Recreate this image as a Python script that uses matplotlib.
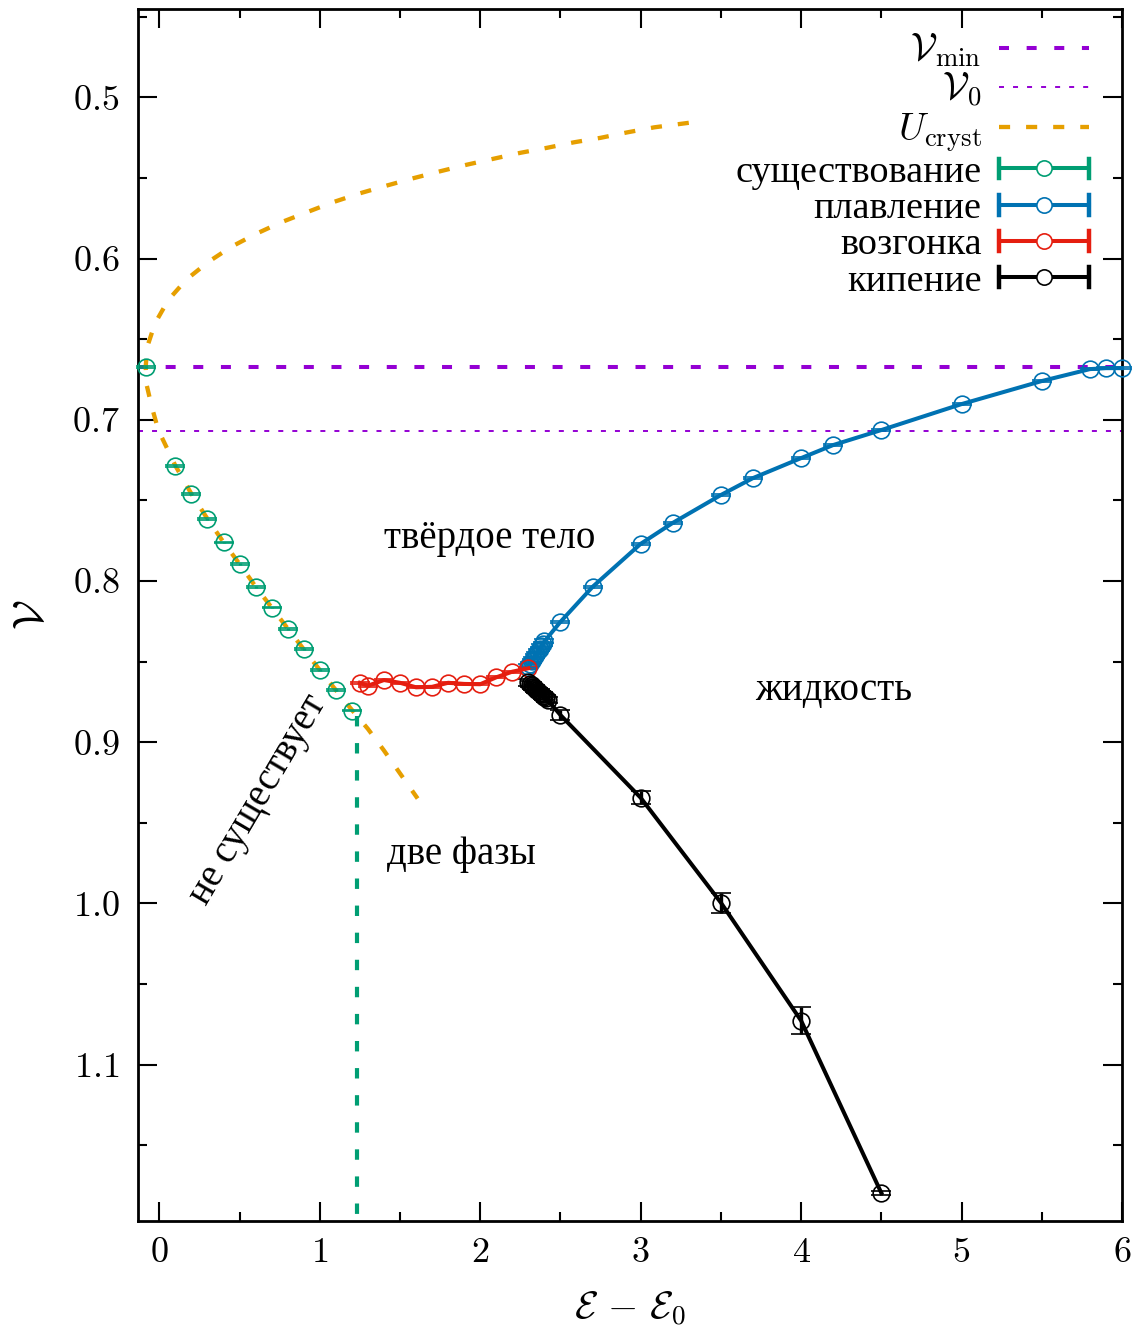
import matplotlib
matplotlib.use("Agg")
import matplotlib.pyplot as plt
from matplotlib.lines import Line2D
from matplotlib.legend_handler import HandlerBase
from matplotlib.ticker import MultipleLocator, FuncFormatter

plt.rcParams["mathtext.fontset"] = "cm"
plt.rcParams["font.family"] = ["Liberation Serif", "DejaVu Serif"]
plt.rcParams["lines.scale_dashes"] = False

# reference levels
v_min = 0.667
v_0 = 0.7071
triple_e = 1.23
triple_v = 0.884

# crystal energy curve U_cryst
ucryst_e = [3.300, 3.085, 2.918, 2.751, 2.584, 2.417, 2.251, 2.083, 1.916, 1.749,
            1.582, 1.415, 1.248, 1.081, 0.927, 0.760, 0.600, 0.449, 0.307, 0.170,
            0.056, -0.027, -0.075, -0.085, -0.080, -0.047, -0.006, 0.10, 0.20, 0.30,
            0.40, 0.50, 0.60, 0.70, 0.80, 0.90, 1.00, 1.10, 1.20, 1.30, 1.40, 1.50, 1.61]
ucryst_v = [0.5158, 0.5186, 0.5217, 0.5251, 0.5279, 0.5313, 0.5344, 0.5381, 0.5418, 0.5459,
            0.5502, 0.5548, 0.5596, 0.5651, 0.5710, 0.5775, 0.5848, 0.5927, 0.6020, 0.6129,
            0.6257, 0.6402, 0.6547, 0.6671, 0.6780, 0.6920, 0.7065, 0.7285, 0.7460, 0.7615,
            0.7760, 0.7895, 0.8035, 0.8165, 0.8295, 0.8424, 0.8553, 0.8677, 0.8800, 0.8918,
            0.9052, 0.9194, 0.9350]

# existence boundary
exist_e = [-0.083, 0.1, 0.2, 0.3, 0.4, 0.5, 0.6, 0.7, 0.8, 0.9, 1.0, 1.1, 1.2]
exist_v = [0.6672, 0.7287, 0.7461, 0.7616, 0.7761, 0.7895, 0.8036, 0.8166, 0.8297,
           0.8424, 0.8553, 0.8677, 0.8805]
exist_err = [0.0005] * len(exist_e)

# melting
melt_e = [2.30, 2.31, 2.32, 2.33, 2.34, 2.35, 2.36, 2.37, 2.38, 2.39, 2.40, 2.5, 2.7,
          3.0, 3.2, 3.5, 3.7, 4.0, 4.2, 4.5, 5.0, 5.5, 5.8, 5.9, 6.0]
melt_v = [0.8530, 0.8515, 0.8499, 0.8484, 0.8468, 0.8453, 0.8437, 0.8422, 0.8406,
          0.8391, 0.8375, 0.8254, 0.8037, 0.777, 0.764, 0.7467, 0.7362, 0.7238,
          0.7157, 0.7064, 0.6903, 0.676, 0.6686, 0.668, 0.668]
melt_err = [0.0012] * 11 + [0.0008] * 14

# sublimation
subl_e = [1.25, 1.3, 1.4, 1.5, 1.6, 1.7, 1.8, 1.9, 2.0, 2.1, 2.2, 2.3]
subl_v = [0.8632, 0.8650, 0.8615, 0.8632, 0.8660, 0.8657, 0.8632, 0.8639, 0.8641,
          0.8598, 0.8563, 0.8542]
subl_err = [0.0006] * len(subl_e)

# boiling
boil_e = [2.30, 2.31, 2.32, 2.33, 2.34, 2.35, 2.36, 2.37, 2.38, 2.39, 2.40, 2.41, 2.42,
          2.5, 3.0, 3.5, 4.0, 4.5]
boil_v = [0.8630, 0.8639, 0.8648, 0.8657, 0.8666, 0.8675, 0.8684, 0.8693, 0.8702,
          0.8711, 0.8720, 0.8729, 0.8738, 0.8832, 0.9345, 0.9996, 1.0728, 1.1797]
boil_err = [0.002] * 13 + [0.003, 0.004, 0.0062, 0.0085, 0.001]

PURPLE = "#9400D3"
GREEN = "#009E73"
ORANGE = "#E69F00"
BLUE = "#0072B2"
RED = "#E51E10"
BLACK = "#000000"

TXT = 28
LEG = 27.5

fig = plt.figure(figsize=(11.36, 13.35), dpi=100)
ax = fig.add_axes([0.12104, 0.08562, 0.86664, 0.90727])

h_vmin = ax.axhline(v_min, color=PURPLE, lw=2.9, dashes=(7.2, 12.7), zorder=2)
h_v0 = ax.axhline(v_0, color=PURPLE, lw=1.4, dashes=(3.6, 6.5), zorder=2)
h_u, = ax.plot(ucryst_e, ucryst_v, color=ORANGE, lw=3.1, dashes=(8.0, 11.5), zorder=3)
ax.vlines(triple_e, triple_v, 1.25, color=GREEN, lw=3.0, linestyles=[(0, (7.5, 12.0))],
          zorder=2)

common = dict(marker="o", ms=12, mfc="none", mew=1.2, capsize=7.2, capthick=3.4,
              elinewidth=2.4, zorder=4, clip_on=False)
ax.errorbar(exist_e, exist_v, yerr=exist_err, color=GREEN, ls="none", **common)
ax.errorbar(melt_e, melt_v, yerr=melt_err, color=BLUE, lw=2.9, **common)
ax.errorbar(subl_e, subl_v, yerr=subl_err, color=RED, lw=2.9, **common)
ax.errorbar(boil_e, boil_v, yerr=boil_err, color=BLACK, lw=2.9, **common)

ax.set_xlim(-0.136, 6.0)
ax.set_ylim(1.1969, 0.4455)

ax.xaxis.set_major_locator(MultipleLocator(1))
ax.xaxis.set_minor_locator(MultipleLocator(0.5))
ax.yaxis.set_major_locator(MultipleLocator(0.1))
ax.yaxis.set_minor_locator(MultipleLocator(0.05))
ax.xaxis.set_major_formatter(FuncFormatter(lambda v, p: f"${v:.0f}$"))
ax.yaxis.set_major_formatter(FuncFormatter(lambda v, p: f"${v:.1f}$"))
ax.tick_params(which="both", direction="in", top=True, right=True, width=1.5,
               labelsize=26)
ax.tick_params(which="major", length=13.5)
ax.tick_params(which="minor", length=6.5)
ax.tick_params(axis="y", which="major", pad=13)
ax.tick_params(axis="x", which="major", pad=12)
for s in ax.spines.values():
    s.set_linewidth(2.0)

ax.set_xlabel(r"$\mathcal{E}\,-\,\mathcal{E}_0$", fontsize=28, labelpad=14)
ax.set_ylabel(r"$\mathcal{V}$", fontsize=31, labelpad=14)

ax.text(2.06, 0.7734, "твёрдое тело", fontsize=TXT, ha="center", va="center")
ax.text(4.20, 0.8677, "жидкость", fontsize=TXT, ha="center", va="center")
ax.text(1.88, 0.970, "две фазы", fontsize=TXT, ha="center", va="center")
ax.text(0.616, 0.936, "не существует", fontsize=TXT, ha="center", va="center",
        rotation=59.5, rotation_mode="anchor")


class CapLineHandler(HandlerBase):
    def create_artists(self, legend, orig_handle, xdescent, ydescent, width, height,
                       fontsize, trans):
        c = orig_handle.get_color()
        y = height / 2 - ydescent
        x0, x1 = -xdescent, width - xdescent
        capy = 0.52 * fontsize
        line = Line2D([x0, x1], [y, y], color=c, lw=2.9, transform=trans)
        cap_l = Line2D([x0, x0], [y - capy / 2, y + capy / 2], color=c, lw=3.2,
                       transform=trans)
        cap_r = Line2D([x1, x1], [y - capy / 2, y + capy / 2], color=c, lw=3.2,
                       transform=trans)
        mk = Line2D([(x0 + x1) / 2], [y], color=c, marker="o", ms=11, mfc="white",
                    mew=1.2, transform=trans)
        return [line, cap_l, cap_r, mk]


p_exist = Line2D([], [], color=GREEN)
p_melt = Line2D([], [], color=BLUE)
p_subl = Line2D([], [], color=RED)
p_boil = Line2D([], [], color=BLACK)
hmap = {h: CapLineHandler() for h in (p_exist, p_melt, p_subl, p_boil)}

leg = ax.legend([h_vmin, h_v0, h_u, p_exist, p_melt, p_subl, p_boil],
                [r"$\mathcal{V}_{\rm min}$", r"$\mathcal{V}_0$", r"$U_{\rm cryst}$",
                 "существование", "плавление", "возгонка", "кипение"],
                handler_map=hmap, loc="upper right", bbox_to_anchor=(0.966, 0.9815),
                frameon=False, markerfirst=False, fontsize=LEG, handlelength=2.35,
                handletextpad=0.45, labelspacing=0.04, borderaxespad=0.0,
                borderpad=0.0)

fig.savefig("out.png", dpi=100)
